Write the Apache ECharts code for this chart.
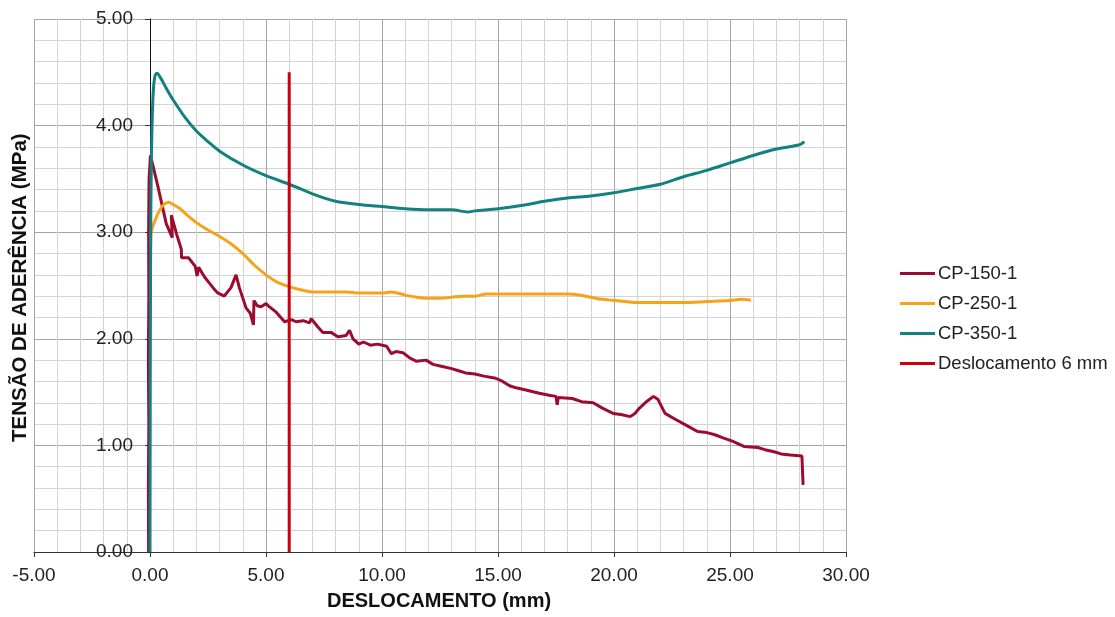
<!DOCTYPE html>
<html>
<head>
<meta charset="utf-8">
<script src="https://cdn.jsdelivr.net/npm/echarts@6/dist/echarts.min.js"></script>
<style>
html,body{margin:0;padding:0;background:#fff;}
#chart{width:1115px;height:617px;}
</style>
</head>
<body>
<div id="chart"></div>
<script>
// valores [deslocamento (mm), tensão (MPa)]
var cp150 = [
  [-0.06,0],[-0.07,0.6],[-0.05,1.2],[-0.07,1.8],[-0.05,2.4],[-0.06,3.0],[-0.04,3.5],[0.02,3.72],
  [0.35,3.42],[0.7,3.08],[0.96,2.95],[0.92,3.16],[1.15,2.98],[1.35,2.84],[1.36,2.76],[1.66,2.76],
  [1.95,2.68],[2.03,2.59],[2.1,2.67],[2.35,2.58],[2.57,2.52],[2.75,2.47],[2.92,2.43],[3.2,2.40],
  [3.49,2.48],[3.71,2.60],[3.85,2.48],[4.14,2.29],[4.32,2.24],[4.46,2.13],[4.48,2.36],[4.62,2.31],
  [4.79,2.30],[5.0,2.33],[5.15,2.30],[5.44,2.25],[5.8,2.16],[6.1,2.18],[6.3,2.16],[6.6,2.17],
  [6.88,2.15],[6.95,2.19],[7.2,2.12],[7.45,2.06],[7.8,2.06],[8.1,2.02],[8.45,2.03],[8.6,2.08],
  [8.75,2.0],[9.0,1.95],[9.2,1.97],[9.5,1.94],[9.8,1.95],[10.2,1.93],[10.4,1.86],[10.6,1.88],
  [10.9,1.87],[11.2,1.82],[11.47,1.79],[11.9,1.80],[12.2,1.76],[12.6,1.74],[13.0,1.72],[13.3,1.70],
  [13.6,1.68],[14.0,1.67],[14.4,1.65],[14.9,1.63],[15.2,1.60],[15.5,1.56],[15.78,1.54],[16.2,1.52],
  [16.78,1.49],[17.2,1.47],[17.5,1.46],[17.55,1.38],[17.6,1.45],[18.2,1.44],[18.6,1.41],[19.1,1.40],
  [19.5,1.35],[19.96,1.30],[20.3,1.29],[20.7,1.27],[20.9,1.30],[21.1,1.35],[21.4,1.41],[21.7,1.46],
  [21.9,1.43],[22.2,1.30],[22.6,1.25],[23.1,1.19],[23.6,1.13],[24.0,1.12],[24.35,1.10],[24.7,1.07],
  [25.1,1.04],[25.6,0.99],[26.2,0.98],[26.5,0.96],[26.9,0.94],[27.2,0.92],[27.6,0.91],[28.1,0.90],
  [28.15,0.63]
];
var cp250 = [
  [0.03,2.88],[0.05,3.0],[0.2,3.1],[0.4,3.2],[0.6,3.26],[0.8,3.28],[1.0,3.26],[1.3,3.22],
  [1.6,3.16],[2.0,3.09],[2.5,3.02],[3.0,2.96],[3.5,2.89],[4.0,2.8],[4.5,2.69],[5.0,2.6],
  [5.5,2.53],[6.0,2.49],[6.5,2.46],[7.0,2.44],[7.5,2.44],[8.0,2.44],[8.5,2.44],[9.0,2.43],
  [9.5,2.43],[10.0,2.43],[10.4,2.44],[11.0,2.41],[11.5,2.39],[12.0,2.38],[12.5,2.38],[13.0,2.39],
  [13.5,2.40],[14.0,2.40],[14.5,2.42],[15.0,2.42],[16.0,2.42],[17.0,2.42],[18.0,2.42],[18.5,2.41],
  [19.0,2.39],[19.5,2.37],[20.0,2.36],[20.5,2.35],[21.0,2.34],[22.0,2.34],[23.0,2.34],[24.0,2.35],
  [25.0,2.36],[25.5,2.37],[25.9,2.36]
];
var cp350 = [
  [0,0],[0.01,1.5],[0.03,3.0],[0.06,3.7],[0.1,4.1],[0.15,4.35],[0.22,4.47],[0.3,4.49],
  [0.45,4.45],[0.7,4.35],[1.0,4.24],[1.5,4.08],[2.0,3.95],[2.5,3.85],[3.0,3.76],[4.0,3.63],
  [5.0,3.53],[6.0,3.45],[7.0,3.36],[8.0,3.29],[9.0,3.26],[10.0,3.24],[11.0,3.22],[12.0,3.21],
  [13.0,3.21],[13.7,3.19],[14.0,3.20],[15.0,3.22],[16.0,3.25],[17.0,3.29],[18.0,3.32],[19.0,3.34],
  [20.0,3.37],[21.0,3.41],[22.0,3.45],[23.0,3.52],[24.0,3.58],[25.0,3.65],[26.0,3.72],[27.0,3.78],
  [28.0,3.82],[28.2,3.85]
];
var desl6 = [[6,0],[6,4.5]];

var seriesNames = ['CP-150-1','CP-250-1','CP-350-1','Deslocamento 6 mm'];
var seriesColors = ['#9c0b30','#f7a21b','#12817f','#c8000f'];

var xMin = -5, xMax = 30, xStep = 5;
var yMin = 0, yMax = 5, yStep = 1;

var gridLeft = 34, gridRight = 269, gridWidth = 1115 - gridLeft - gridRight;
// o eixo vertical cruza em x = 0
var yAxisShift = gridWidth * (0 - xMin) / (xMax - xMin);

var chart = echarts.init(document.getElementById('chart'));
var fontFam = '"Liberation Sans", Arial, sans-serif';

function lineSeries(name, data, color, smooth){
  return {
    name: name,
    type: 'line',
    data: data,
    showSymbol: false,
    smooth: smooth,
    lineStyle: {color: color, width: 3},
    itemStyle: {color: color},
    animation: false
  };
}

var options = {
  animation: false,
  grid: {left: gridLeft, right: gridRight, top: 19, bottom: 65, outerBoundsMode: 'none', containLabel: false},
  legend: {
    orient: 'vertical',
    left: 895,
    top: 259,
    icon: 'rect',
    itemWidth: 35,
    itemHeight: 3,
    itemGap: 11,
    data: seriesNames,
    textStyle: {fontFamily: fontFam, fontSize: 18.5, color: '#222', padding: [0,0,0,-2]}
  },
  xAxis: {
    type: 'value',
    min: xMin, max: xMax, interval: xStep,
    axisLine: {onZero: true, lineStyle: {color: '#333', width: 1}},
    axisTick: {show: true, length: 5, inside: false, lineStyle: {color: '#333'}},
    axisLabel: {fontFamily: fontFam, fontSize: 19, color: '#222', margin: 14,
      formatter: function(v){ return v.toFixed(2); }},
    splitLine: {show: true, lineStyle: {color: '#a6a6a6', width: 1}},
    minorTick: {show: true, splitNumber: 5, length: 0},
    minorSplitLine: {show: true, lineStyle: {color: '#d4d4d4', width: 1}}
  },
  yAxis: {
    type: 'value',
    min: yMin, max: yMax, interval: yStep,
    offset: -yAxisShift,
    axisLine: {show: true, onZero: false, lineStyle: {color: '#111', width: 1}},
    axisTick: {show: true, length: 5, inside: false, lineStyle: {color: '#333'}},
    axisLabel: {fontFamily: fontFam, fontSize: 19, color: '#222', margin: 17,
      formatter: function(v){ return v.toFixed(2); }},
    splitLine: {show: true, lineStyle: {color: '#a6a6a6', width: 1}},
    minorTick: {show: true, splitNumber: 5, length: 0},
    minorSplitLine: {show: true, lineStyle: {color: '#d4d4d4', width: 1}}
  },
  graphic: [
    {
      type: 'text',
      left: 327, top: 591,
      style: {text: 'DESLOCAMENTO (mm)', font: 'bold 20px "Liberation Sans", Arial, sans-serif', fill: '#111'}
    },
    {
      type: 'text',
      x: 10, y: 442,
      rotation: Math.PI / 2,
      style: {text: 'TENSÃO DE ADERÊNCIA (MPa)', font: 'bold 20.5px "Liberation Sans", Arial, sans-serif', fill: '#111'}
    }
  ],
  series: [
    lineSeries(seriesNames[0], cp150, seriesColors[0], false),
    lineSeries(seriesNames[1], cp250, seriesColors[1], 0.3),
    lineSeries(seriesNames[2], cp350, seriesColors[2], 0.3),
    lineSeries(seriesNames[3], desl6, seriesColors[3], false)
  ]
};
chart.setOption(options, true);
</script>
</body>
</html>
